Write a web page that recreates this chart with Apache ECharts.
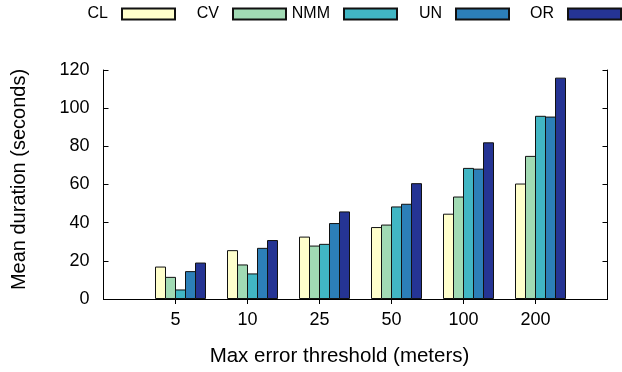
<!DOCTYPE html>
<html>
<head>
<meta charset="utf-8">
<script src="https://cdn.jsdelivr.net/npm/echarts@6/dist/echarts.min.js"></script>
<style>
html,body{margin:0;padding:0;background:#fff;}
#c{width:622px;height:372px;}
</style>
</head>
<body>
<div id="c"></div>
<script>
const categories = ['', '5', '10', '25', '50', '100', '200', ''];
const seriesNames = ['CL', 'CV', 'NMM', 'UN', 'OR'];
const CL  = [null, 17.0, 25.6, 32.7, 37.7, 44.7, 60.5, null];
const CV  = [null, 11.6, 18.1, 28.0, 39.0, 53.7, 75.0, null];
const NMM = [null, 5.0, 13.4, 28.9, 48.5, 68.7, 96.0, null];
const UN  = [null, 14.6, 26.8, 39.8, 49.9, 68.3, 95.6, null];
const OR  = [null, 19.1, 30.9, 45.9, 60.7, 82.1, 116.0, null];
const yTicks = [0, 20, 40, 60, 80, 100, 120];
const colors = ['#ffffcc', '#a1dab4', '#41b6c4', '#2c7fb8', '#253494'];

const FONT = 'Liberation Sans, Arial, Helvetica, sans-serif';
const values = [CL, CV, NMM, UN, OR];
const BAR_W = 11;
const BAR_GAP = '-9.0909%';

const series = [{
  name: '_pad', type: 'bar', data: categories.map(() => null),
  barGap: BAR_GAP, barWidth: BAR_W, silent: true
}];
values.forEach((v, i) => {
  series.push({
    name: seriesNames[i], type: 'bar', data: v, barGap: BAR_GAP, barWidth: BAR_W,
    itemStyle: { color: colors[i], borderColor: '#111', borderWidth: 1 },
    emphasis: { disabled: true }
  });
});

const legendRights = [446, 335, 224, 112, 0];
const legends = seriesNames.map((n, i) => ({
  data: [n], right: legendRights[i], top: 6, padding: 0,
  align: 'right', itemWidth: 53, itemHeight: 11, icon: 'rect',
  selectedMode: false,
  textStyle: { fontFamily: FONT, fontSize: 16, color: '#000', padding: [0, 9, 0, 0] }
}));

const chart = echarts.init(document.getElementById('c'), null, { renderer: 'canvas' });
chart.setOption({
  animation: false,
  backgroundColor: '#fff',
  legend: legends,
  grid: { left: 103.5, top: 70, right: 14.5, bottom: 72, containLabel: false },
  xAxis: [{
    type: 'category', data: categories, boundaryGap: false,
    name: 'Max error threshold (meters)', nameLocation: 'middle', nameGap: 47,
    nameTextStyle: { fontFamily: FONT, fontSize: 20.5, color: '#000', padding: [0, 32, 0, 0] },
    axisLine: { lineStyle: { color: '#000', width: 1 } },
    axisTick: { inside: true, length: 5, lineStyle: { color: '#000' },
      interval: (idx) => idx > 0 && idx < categories.length - 1 },
    axisLabel: { fontFamily: FONT, fontSize: 18, color: '#000', margin: 12, interval: 0 },
    splitLine: { show: false }
  }, {
    type: 'category', data: categories, boundaryGap: false, position: 'top',
    axisLine: { lineStyle: { color: '#000', width: 1 } },
    axisTick: { inside: true, length: 5, lineStyle: { color: '#000' },
      interval: (idx) => idx > 0 && idx < categories.length - 1 },
    axisLabel: { show: false }, splitLine: { show: false }
  }],
  yAxis: [{
    type: 'value', min: yTicks[0], max: yTicks[yTicks.length - 1], interval: 20,
    name: 'Mean duration (seconds)', nameLocation: 'middle', nameGap: 74, nameRotate: 90,
    nameTextStyle: { fontFamily: FONT, fontSize: 20, color: '#000', padding: [0, 0, 0, 10] },
    axisLine: { show: true, lineStyle: { color: '#000', width: 1 } },
    axisTick: { show: true, inside: true, length: 5, lineStyle: { color: '#000' } },
    axisLabel: { fontFamily: FONT, fontSize: 18, color: '#000', margin: 14 },
    splitLine: { show: false }
  }, {
    type: 'value', min: yTicks[0], max: yTicks[yTicks.length - 1], interval: 20, position: 'right',
    axisLine: { show: true, lineStyle: { color: '#000', width: 1 } },
    axisTick: { show: true, inside: true, length: 5, lineStyle: { color: '#000' } },
    axisLabel: { show: false }, splitLine: { show: false }
  }],
  series: series
});
</script>
</body>
</html>
